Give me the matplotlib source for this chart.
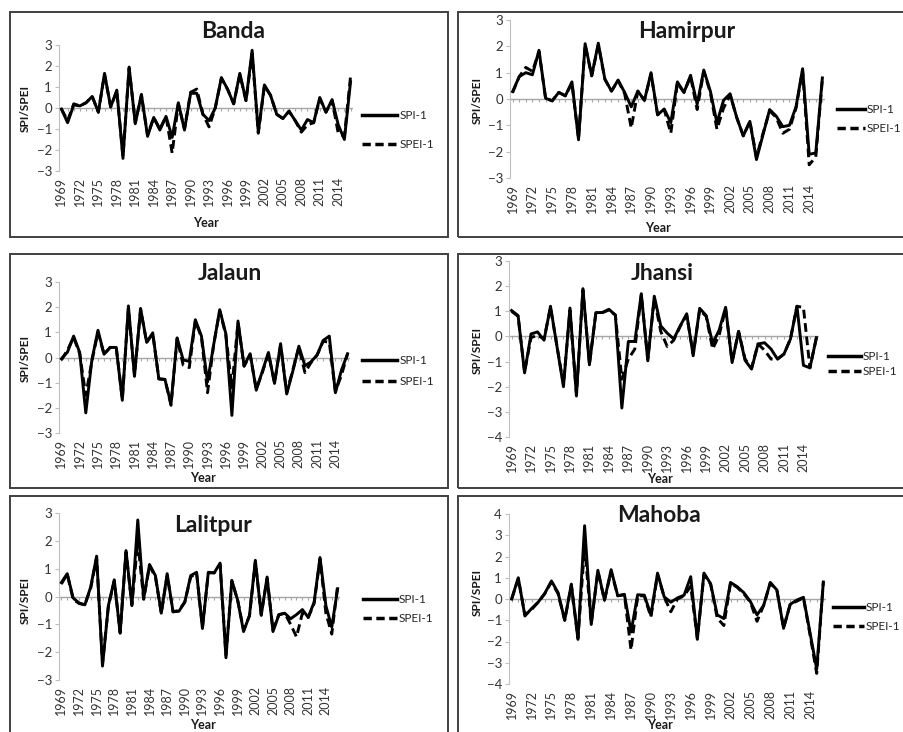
import matplotlib.pyplot as plt
from matplotlib.patches import Rectangle
from matplotlib.lines import Line2D

plt.rcParams['font.family'] = ['Lato', 'DejaVu Sans']

years = list(range(1969, 2017))
label_years = list(range(1969, 2015, 3))

banda_spi = [-0.05, -0.7, 0.15, 0.1, 0.25, 0.55, -0.2, 1.65, 0.05, 0.85, -2.4, 1.95, -0.75, 0.65, -1.35, -0.45,
             -1.05, -0.4, -1.4, 0.25, -1.05, 0.7, 0.7, -0.3, -0.6, 0.0, 1.45, 0.9, 0.2, 1.65, 0.35, 2.75,
             -1.15, 1.1, 0.6, -0.3, -0.5, -0.15, -0.6, -1.05, -0.55, -0.7, 0.5, -0.2, 0.4, -0.8, -1.5, 1.25]
banda_spei = [-0.05, -0.6, 0.2, 0.1, 0.25, 0.55, -0.2, 1.6, 0.05, 0.8, -2.3, 1.9, -0.7, 0.6, -1.3, -0.45,
              -1.0, -0.4, -2.15, 0.2, -1.0, 0.75, 0.9, -0.3, -0.9, 0.0, 1.4, 0.9, 0.2, 1.6, 0.35, 2.6,
              -1.2, 1.05, 0.6, -0.3, -0.5, -0.15, -0.6, -1.15, -0.8, -0.7, 0.45, -0.2, 0.35, -1.2, -1.35, 1.5]

hamirpur_spi = [0.28, 0.85, 1.0, 0.92, 1.85, 0.03, -0.07, 0.25, 0.12, 0.65, -1.55, 2.1, 0.88, 2.12, 0.75, 0.3,
                0.72, 0.25, -0.3, 0.3, -0.05, 1.0, -0.6, -0.38, -0.9, 0.65, 0.25, 0.9, -0.2, 1.1, 0.3, -0.9,
                -0.05, 0.2, -0.7, -1.4, -0.85, -2.3, -1.35, -0.4, -0.65, -1.05, -1.0, -0.3, 1.15, -2.1, -2.05, 0.8]
hamirpur_spei = [0.25, 0.85, 1.2, 1.05, 1.8, 0.03, -0.07, 0.25, 0.12, 0.6, -1.5, 2.05, 0.88, 2.05, 0.75, 0.3,
                 0.7, 0.2, -1.1, 0.3, -0.05, 0.95, -0.6, -0.4, -1.3, 0.6, 0.25, 0.85, -0.4, 1.05, 0.25, -1.15,
                 -0.35, 0.15, -0.7, -1.4, -0.85, -2.2, -1.3, -0.45, -0.7, -1.3, -1.15, -0.35, 1.1, -2.5, -2.2, 0.75]

jalaun_spi = [-0.05, 0.22, 0.85, 0.2, -2.2, -0.1, 1.08, 0.13, 0.4, 0.4, -1.7, 2.05, -0.75, 1.95, 0.6, 0.98,
              -0.85, -0.87, -1.85, 0.78, -0.1, -0.15, 1.5, 0.85, -0.97, 0.5, 1.9, 0.95, -2.3, 1.45, -0.33, 0.15,
              -1.3, -0.55, 0.2, -1.03, 0.55, -1.45, -0.55, 0.45, -0.33, -0.17, 0.1, 0.68, 0.85, -1.4, -0.5, 0.15]
jalaun_spei = [-0.1, 0.3, 0.8, 0.15, -1.5, -0.15, 1.0, 0.13, 0.4, 0.4, -1.65, 1.95, -0.7, 1.9, 0.6, 0.95,
               -0.85, -0.87, -1.9, 0.75, -0.3, -0.4, 1.45, 0.8, -1.4, 0.5, 1.85, 0.9, -1.2, 1.4, -0.35, 0.1,
               -1.25, -0.6, 0.15, -1.0, 0.5, -1.4, -0.5, 0.4, -0.6, -0.2, 0.1, 0.65, 0.6, -1.35, -0.7, 0.15]

jhansi_spi = [1.03, 0.83, -1.45, 0.1, 0.18, -0.15, 1.2, -0.4, -2.0, 1.13, -2.37, 1.9, -1.13, 0.95, 0.95, 1.08,
              0.85, -2.85, -0.2, -0.2, 1.7, -0.97, 1.6, 0.42, 0.13, -0.1, 0.42, 0.9, -0.77, 1.12, 0.83, -0.28,
              0.25, 1.16, -1.04, 0.2, -0.95, -1.3, -0.3, -0.25, -0.5, -0.9, -0.7, -0.1, 1.2, -1.15, -1.25, -0.05]
jhansi_spei = [1.0, 0.8, -1.4, -0.05, 0.05, -0.1, 1.15, -0.4, -1.9, 1.05, -2.3, 1.85, -1.1, 0.95, 0.95, 1.05,
               0.85, -1.7, -0.9, -0.5, 1.65, -0.9, 1.5, 0.2, -0.4, -0.15, 0.4, 0.85, -0.7, 1.05, 0.8, -0.5,
               0.05, 1.1, -1.0, 0.2, -0.9, -1.25, -0.3, -0.55, -0.9, -0.9, -0.7, -0.1, 1.2, 1.15, -1.25, -0.05]

lalitpur_spi = [0.5, 0.82, -0.05, -0.23, -0.3, 0.35, 1.45, -2.5, -0.33, 0.6, -1.32, 1.65, -0.33, 2.75, -0.08, 1.15,
                0.75, -0.6, 0.82, -0.55, -0.53, -0.2, 0.75, 0.87, -1.15, 0.87, 0.85, 1.2, -2.2, 0.58, -0.14, -1.26,
                -0.68, 1.3, -0.68, 0.7, -1.26, -0.66, -0.6, -0.8, -0.65, -0.47, -0.75, -0.2, 1.4, -0.33, -1.1, 0.28]
lalitpur_spei = [0.45, 0.8, -0.1, -0.25, -0.3, 0.3, 1.4, -2.4, -0.35, 0.55, -1.3, 1.6, -0.3, 2.0, -0.1, 1.1,
                 0.7, -0.6, 0.75, -0.55, -0.5, -0.2, 0.7, 0.85, -1.1, 0.85, 0.85, 1.15, -2.1, 0.55, -0.15, -1.2,
                 -0.7, 1.25, -0.65, 0.65, -1.2, -0.65, -0.6, -1.0, -1.45, -0.6, -0.75, -0.25, 1.35, -0.6, -1.35, 0.4]

mahoba_spi = [0.0, 1.0, -0.8, -0.45, -0.15, 0.27, 0.85, 0.3, -1.0, 0.7, -1.9, 3.45, -1.2, 1.35, -0.05, 1.38,
              0.15, 0.22, -1.55, 0.2, 0.18, -0.75, 1.22, 0.1, -0.15, 0.05, 0.18, 1.05, -1.9, 1.22, 0.72, -0.75,
              -0.92, 0.78, 0.58, 0.3, -0.12, -0.75, -0.3, 0.78, 0.42, -1.38, -0.25, -0.05, 0.08, -1.6, -3.3, 0.8]
mahoba_spei = [0.0, 0.95, -0.75, -0.5, -0.15, 0.25, 0.8, 0.25, -1.0, 0.65, -1.85, 2.5, -1.15, 1.3, -0.05, 1.3,
               0.15, 0.2, -2.4, 0.15, 0.15, -0.85, 1.15, 0.1, -0.6, 0.0, 0.15, 0.6, -1.85, 1.15, 0.7, -0.9,
               -1.25, 0.75, 0.55, 0.25, -0.15, -1.05, -0.3, 0.75, 0.4, -1.35, -0.25, -0.1, 0.05, -1.7, -3.5, 0.8]

W, H = 904, 732
fig = plt.figure(figsize=(W / 100, H / 100), dpi=100)


def fx(x):
    return x / W


def fy(y):
    return 1 - y / H


# layout in pixels: frame box, plot area, title, y label, "Year", legend
panels = [
    dict(name='Banda', spi=banda_spi, spei=banda_spei, box=(10, 12, 448, 237), ax=(59, 45, 353, 171),
         ylim=(-3, 3), title=(233, 32), ylab=(25, 108), year=(206, 223), leg=(362, 130, 1.5, 3.0)),
    dict(name='Hamirpur', spi=hamirpur_spi, spei=hamirpur_spei, box=(458, 12, 960, 237), ax=(510, 20, 825, 178),
         ylim=(-3, 3), title=(687, 32), ylab=(477, 100), year=(658, 228), leg=(837, 119, 0.7, 2.4)),
    dict(name='Jalaun', spi=jalaun_spi, spei=jalaun_spei, box=(10, 254, 448, 488), ax=(59, 282, 350, 433),
         ylim=(-3, 3), title=(230, 273), ylab=(25, 358), year=(203, 478), leg=(362, 371, 0.9, 3.0)),
    dict(name='Jhansi', spi=jhansi_spi, spei=jhansi_spei, box=(458, 254, 960, 488), ax=(509, 261, 819, 437),
         ylim=(-4, 3), title=(662, 273), ylab=(477, 350), year=(660, 479), leg=(828, 364, 0.4, 2.8)),
    dict(name='Lalitpur', spi=lalitpur_spi, spei=lalitpur_spei, box=(10, 496, 448, 790), ax=(59, 513, 340, 680),
         ylim=(-3, 3), title=(213, 525), ylab=(25, 600), year=(203, 725), leg=(363, 609, 0.65, 2.9)),
    dict(name='Mahoba', spi=mahoba_spi, spei=mahoba_spei, box=(458, 496, 960, 790), ax=(509, 514, 826, 684),
         ylim=(-4, 4), title=(659, 516), ylab=(477, 592), year=(660, 725), leg=(833, 617, 0.65, 2.6)),
]

grey = '#bfbfbf'
txt = '#1a1a1a'

for p in panels:
    bx0, by0, bx1, by1 = p['box']
    fig.add_artist(Rectangle((fx(bx0), fy(by1)), fx(bx1 - bx0), (by1 - by0) / H,
                             transform=fig.transFigure, fill=False, ec='#404040', lw=1.4))

    l, t, r, b = p['ax']
    ax = fig.add_axes([fx(l), fy(b), fx(r - l), (b - t) / H])
    ymin, ymax = p['ylim']
    ax.set_ylim(ymin, ymax)
    ax.set_xlim(1968.6, 2016.4)
    ax.patch.set_alpha(0)

    ax.axhline(0, color='#a6a6a6', lw=1.0, zorder=1)
    f0 = (0 - ymin) / (ymax - ymin)
    tl = 3 / (b - t)
    ax.vlines(years, f0 - tl, f0, transform=ax.get_xaxis_transform(), color='#a6a6a6', lw=0.8, zorder=1)

    ax.plot(years, p['spi'], color='black', lw=2.1, label='SPI-1', zorder=3)
    ax.plot(years, p['spei'], color='black', lw=2.1, ls=(0, (3, 1.6)), label='SPEI-1', zorder=4)

    for s in ['top', 'right', 'bottom']:
        ax.spines[s].set_visible(False)
    ax.spines['left'].set_color(grey)
    ax.set_yticks(range(ymin, ymax + 1))
    ax.tick_params(axis='y', length=3, color=grey, labelsize=9.5, labelcolor='#333333', pad=2)
    ax.set_xticks(label_years)
    ax.set_xticklabels([str(y) for y in label_years], rotation=90)
    ax.tick_params(axis='x', length=0, labelsize=9, labelcolor='#333333', pad=4)

    tx, ty = p['title']
    fig.text(fx(tx), fy(ty), p['name'], ha='center', va='center', fontsize=16.5, fontweight='bold', color=txt)
    yx, yy = p['ylab']
    fig.text(fx(yx), fy(yy), 'SPI/SPEI', ha='center', va='center', rotation=90, fontsize=8.5,
             fontweight='bold', color=txt)
    ex, ey = p['year']
    fig.text(fx(ex), fy(ey), 'Year', ha='center', va='center', fontsize=9, fontweight='bold', color=txt)

    lx, ly, lsp, hl = p['leg']
    handles = [Line2D([], [], color='black', lw=2.5),
               Line2D([], [], color='black', lw=2.5, ls=(0, (2.4, 1.3)))]
    ax.legend(handles, ['SPI-1', 'SPEI-1'], loc='center left', bbox_to_anchor=(fx(lx), fy(ly)),
              bbox_transform=fig.transFigure, frameon=False, fontsize=8.5, handlelength=hl,
              handletextpad=0.15, labelspacing=lsp, borderpad=0, borderaxespad=0, labelcolor='#262626')

fig.savefig('out.png', dpi=100)
